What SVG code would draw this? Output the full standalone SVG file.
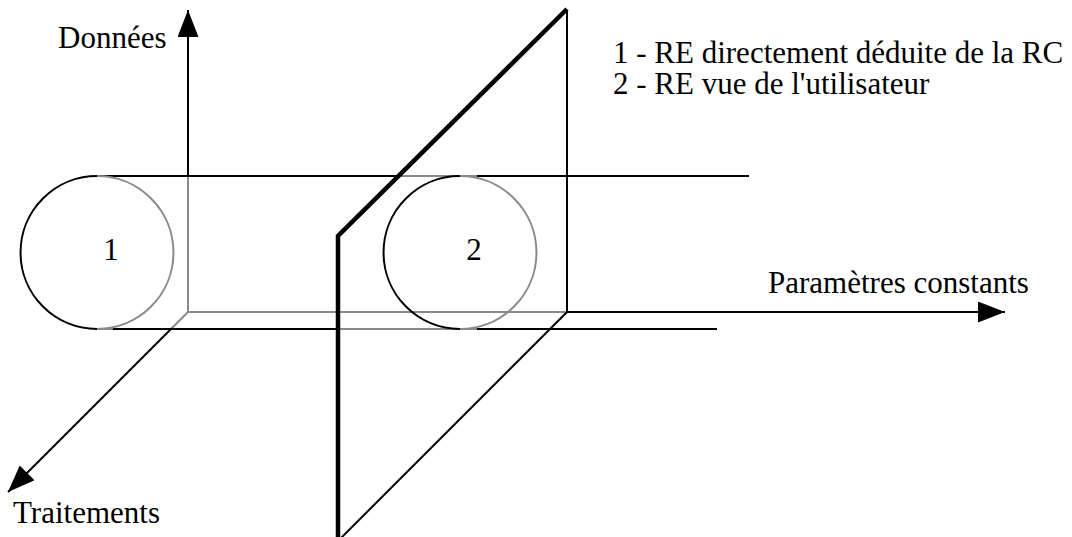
<svg xmlns="http://www.w3.org/2000/svg" width="1072" height="537" viewBox="0 0 1072 537">
<style>
text{font-family:"Liberation Serif","Times New Roman",serif;font-size:31px;fill:#000}
.k{stroke:#000;stroke-width:2;fill:none}
.g{stroke:#8a8a8a;stroke-width:2;fill:none}
.t{stroke:#000;stroke-width:4.5;fill:none;stroke-linejoin:miter}
</style>
<defs>
<marker id="ah" markerUnits="userSpaceOnUse" markerWidth="28" markerHeight="22" refX="27" refY="10.5" orient="auto">
<path d="M0,0 L27,10.5 L0,21 z" fill="#000"/>
</marker>
</defs>
<rect width="1072" height="537" fill="#fff"/>
<g id="connectors">
<line class="g" x1="188" y1="312" x2="188" y2="176"/>
<line class="k" x1="188" y1="176" x2="188" y2="10" marker-end="url(#ah)"/>
<line class="g" x1="188" y1="312" x2="567" y2="312"/>
<line class="k" x1="567" y1="312" x2="1005" y2="312" marker-end="url(#ah)"/>
<line class="g" x1="188" y1="312" x2="172" y2="328"/>
<line class="k" x1="172" y1="328" x2="8" y2="492" marker-end="url(#ah)"/>
</g>
<g id="cylinder">
<line class="k" x1="97" y1="176" x2="397" y2="176"/>
<line class="g" x1="397" y1="176" x2="477" y2="176"/>
<line class="k" x1="477" y1="176" x2="749" y2="176"/>
<line class="g" x1="97" y1="329" x2="113" y2="329"/>
<line class="k" x1="113" y1="329" x2="338" y2="329"/>
<line class="g" x1="338" y1="329" x2="477" y2="329"/>
<line class="k" x1="477" y1="329" x2="717" y2="329"/>
</g>
<g id="node-1">
<path class="k" d="M97,176 A76.5,76.5 0 0 0 97,329"/>
<path class="g" d="M97,176 A76.5,76.5 0 0 1 97,329"/>
<text x="111" y="260" text-anchor="middle">1</text>
</g>
<g id="node-2">
<path class="k" d="M460,176 A76.5,76.5 0 0 0 460,329"/>
<path class="g" d="M460,176 A76.5,76.5 0 0 1 460,329"/>
<text x="474" y="260" text-anchor="middle">2</text>
</g>
<g id="plane">
<polyline class="k" points="567,10 567,312 339,540"/>
<polyline class="t" points="338,540 338,236 567,9"/>
</g>
<g id="labels">
<text x="58" y="48">Données</text>
<text x="768" y="293">Paramètres constants</text>
<text x="13" y="523">Traitements</text>
<text x="613" y="63">1 - RE directement déduite de la RC</text>
<text x="613" y="94">2 - RE vue de l'utilisateur</text>
</g>
</svg>
